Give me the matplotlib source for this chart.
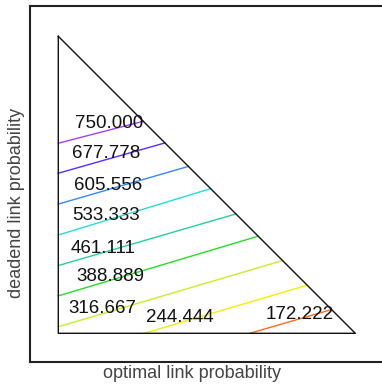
import matplotlib.pyplot as plt

# Contour levels of the cost surface over the probability simplex
levels = [172.222, 244.444, 316.667, 388.889, 461.111, 533.333, 605.556, 677.778, 750.000]

# Where each level line enters (left or bottom edge) and leaves (hypotenuse)
start_x = [0.645, 0.289, 0.0, 0.0, 0.0, 0.0, 0.0, 0.0, 0.0]
start_y = [0.0, 0.0, 0.022, 0.126, 0.228, 0.331, 0.435, 0.539, 0.640]
end_x = [0.920, 0.838, 0.755, 0.673, 0.598, 0.513, 0.438, 0.359, 0.286]
end_y = [1.0 - x for x in end_x]

# Label anchors for each level
label_x = [0.814, 0.410, 0.147, 0.174, 0.150, 0.161, 0.167, 0.161, 0.172]
label_y = [0.062, 0.052, 0.082, 0.190, 0.287, 0.395, 0.499, 0.604, 0.705]

line_colors = ["#ff6a20", "#f0f000", "#c4f028", "#22e022", "#22d0a0",
               "#22dede", "#3388ff", "#5a2cff", "#a040ff"]

W, H, DPI = 382, 389, 100

# Layout in pixels
AX_L, AX_R, AX_T, AX_B = 30, 396, 5.5, 362
X0_PX, Y0_PX, UNIT_PX = 58.3, 333.3, 297.0

fig = plt.figure(figsize=(W / DPI, H / DPI), dpi=DPI)
fig.patch.set_facecolor("white")
ax = fig.add_axes([AX_L / W, (H - AX_B) / H, (AX_R - AX_L) / W, (AX_B - AX_T) / H])

xmin = -(X0_PX - AX_L) / UNIT_PX
xmax = xmin + (AX_R - AX_L) / UNIT_PX
ymin = -(AX_B - Y0_PX) / UNIT_PX
ymax = ymin + (AX_B - AX_T) / UNIT_PX
ax.set_xlim(xmin, xmax)
ax.set_ylim(ymin, ymax)
ax.set_xticks([])
ax.set_yticks([])
for s in ax.spines.values():
    s.set_color("#222222")
    s.set_linewidth(1.5)

# Simplex boundary
ax.plot([0, 0, 1, 0], [1, 0, 0, 1], color="#111111", lw=1.0, zorder=3)

for lev, xs, ys, xe, ye, lx, ly, c in zip(levels, start_x, start_y, end_x, end_y,
                                          label_x, label_y, line_colors):
    ax.plot([xs, xe], [ys, ye], color=c, lw=1.0, zorder=2)
    ax.text(lx, ly, f"{lev:.3f}", fontsize=13.5, family="Liberation Sans",
            color="#111111", ha="center", va="center", zorder=4)

fig.text(191.5 / W, 1 - 373 / H, "optimal link probability", fontsize=13,
         family="Liberation Sans", color="#444444", ha="center", va="center")
fig.text(17 / W, 1 - 202.5 / H, "deadend link probability", fontsize=13,
         family="Liberation Sans", color="#444444", ha="center", va="center",
         rotation=90)

fig.savefig("out.png", dpi=DPI)
